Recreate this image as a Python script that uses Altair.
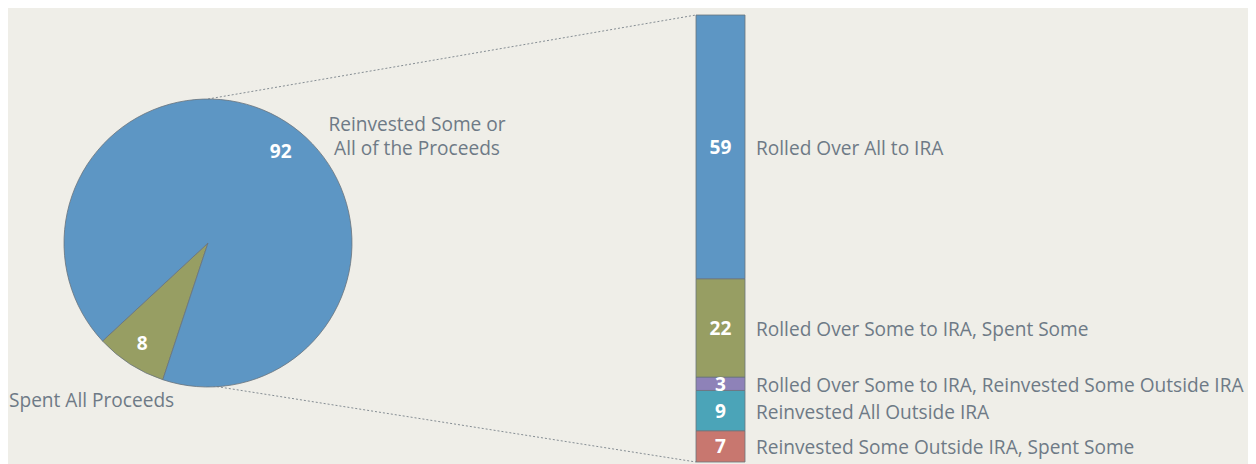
import math
import altair as alt
import pandas as pd

# ---- data ----
pie_labels = ["Spent All Proceeds", "Reinvested Some or All of the Proceeds"]
pie_values = [8, 92]

bar_labels = [
    "Reinvested Some Outside IRA, Spent Some",
    "Reinvested All Outside IRA",
    "Rolled Over Some to IRA, Reinvested Some Outside IRA",
    "Rolled Over Some to IRA, Spent Some",
    "Rolled Over All to IRA",
]
bar_values = [7, 9, 3, 22, 59]

pie_note_lines = ["Reinvested Some or", "All of the Proceeds"]
pie_note_small = "Spent All Proceeds"

# ---- styles ----
BG = "#EFEEE8"
GRAY = "#6E7A86"
STROKE = "#6A737C"
FONT = "Open Sans"
FS = 19.1
pie_colors = ["#979E63", "#5D96C4"]
bar_colors = ["#C8776F", "#4BA4B8", "#8E82B8", "#979E63", "#5D96C4"]

W, H = 1240, 456
CX, CY, R = 200, 235, 144
BX0, BX1 = 688, 737
YTOP, YBOT = 7, H - 2
start = math.radians(198.3)

pie_df = pd.DataFrame({"seg": pie_labels, "value": pie_values,
                       "color": pie_colors, "ord": [0, 1]})
bar_df = pd.DataFrame({"cat": bar_labels, "value": bar_values,
                       "color": bar_colors, "ord": list(range(len(bar_values)))})

yscale = alt.Scale(domain=[0, sum(bar_values)], range=[YBOT, YTOP])
theta_scale = alt.Scale(range=[start, start + 2 * math.pi])

pie_base = alt.Chart(pie_df)
pie = pie_base.mark_arc(radius=R, stroke=STROKE, strokeWidth=0.8).encode(
    theta=alt.Theta("value:Q", stack=True, scale=theta_scale),
    color=alt.Color("color:N", scale=None),
    order=alt.Order("ord:Q"),
    x=alt.value(CX), y=alt.value(CY),
)


def pie_num(idx, dx, dy):
    return pie_base.mark_text(
        radius=118, font=FONT, fontSize=FS, fontWeight="bold", color="white",
        dx=dx, dy=dy,
    ).encode(
        theta=alt.Theta("value:Q", stack=True, scale=theta_scale),
        order=alt.Order("ord:Q"),
        text=alt.Text("value:Q"),
        opacity=alt.condition(alt.datum.ord == idx, alt.value(1), alt.value(0)),
        x=alt.value(CX), y=alt.value(CY),
    )


pie_text_a = pie_num(0, -2, 2)
pie_text_b = pie_num(1, 9, 8)

pie_lab1a = alt.Chart(pd.DataFrame({"t": [pie_note_lines[0]]})).mark_text(
    font=FONT, fontSize=FS, color=GRAY, align="center", baseline="middle"
).encode(text="t", x=alt.value(409), y=alt.value(117))
pie_lab1b = alt.Chart(pd.DataFrame({"t": [pie_note_lines[1]]})).mark_text(
    font=FONT, fontSize=FS, color=GRAY, align="center", baseline="middle"
).encode(text="t", x=alt.value(409), y=alt.value(141))
pie_lab2 = alt.Chart(pd.DataFrame({"t": [pie_note_small]})).mark_text(
    font=FONT, fontSize=FS, color=GRAY, align="left", baseline="middle"
).encode(text="t", x=alt.value(1), y=alt.value(393))

stacked = alt.Chart(bar_df).transform_stack(
    stack="value", groupby=[], as_=["y0", "y1"], sort=[alt.SortField("ord")]
).transform_calculate(mid="(datum.y0 + datum.y1) / 2")

bars = stacked.mark_rect(stroke=STROKE, strokeWidth=0.8).encode(
    y=alt.Y("y0:Q", scale=yscale, axis=None),
    y2="y1:Q",
    x=alt.value(BX0), x2=alt.value(BX1),
    color=alt.Color("color:N", scale=None),
)
bar_nums = stacked.mark_text(font=FONT, fontSize=FS, fontWeight="bold", color="white",
                             baseline="middle", dy=1).encode(
    y=alt.Y("mid:Q", scale=yscale, axis=None),
    x=alt.value((BX0 + BX1) / 2),
    text="value:Q",
)
bar_names = stacked.mark_text(font=FONT, fontSize=FS, color=GRAY, align="left",
                              baseline="middle", dy=2).encode(
    y=alt.Y("mid:Q", scale=yscale, axis=None),
    x=alt.value(BX1 + 11),
    text="cat:N",
)

conn_top = alt.Chart(pd.DataFrame({"a": [0]})).mark_rule(
    color=STROKE, strokeDash=[2, 2], strokeWidth=0.8
).encode(x=alt.value(CX), y=alt.value(CY - R), x2=alt.value(BX0), y2=alt.value(YTOP))
conn_bot = alt.Chart(pd.DataFrame({"a": [0]})).mark_rule(
    color=STROKE, strokeDash=[2, 2], strokeWidth=0.8
).encode(x=alt.value(CX + 5), y=alt.value(CY + R - 1), x2=alt.value(BX0), y2=alt.value(YBOT))

chart = alt.layer(conn_top, conn_bot, pie, pie_text_a, pie_text_b, pie_lab1a, pie_lab1b,
                  pie_lab2, bars, bar_nums, bar_names).properties(
    width=W, height=H, background=BG, padding=0,
    autosize=alt.AutoSizeParams(type="none"),
).configure_view(stroke=None)

chart.save("out.html", embed_options={"renderer": "svg", "actions": False})
